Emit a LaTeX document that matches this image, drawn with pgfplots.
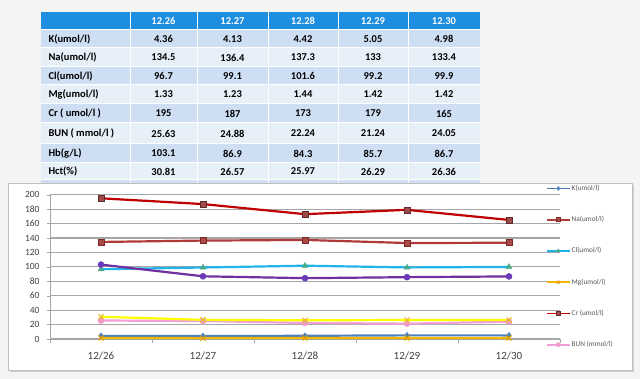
\documentclass[border=0pt]{standalone}
\usepackage{pgfplots}
\pgfplotsset{compat=1.18}
\usepackage{fontspec}
\setmainfont{Carlito}
\definecolor{bgc}{HTML}{F4F4F4}
\definecolor{hdr}{HTML}{1E8EE0}
\definecolor{rowdark}{HTML}{CEDFF4}
\definecolor{rowlight}{HTML}{E7EFF9}
\definecolor{boxgray}{HTML}{BFBFBF}
\definecolor{gridgray}{HTML}{A6A6A6}
\definecolor{axisgray}{HTML}{A6A6A6}
\definecolor{ticktext}{HTML}{404040}
\definecolor{legtext}{HTML}{595959}
\definecolor{cK}{HTML}{4F81BD}
\definecolor{cNa}{HTML}{B03A38}
\definecolor{cNam}{HTML}{A84B48}
\definecolor{cCl}{HTML}{1FB4EA}
\definecolor{cClm}{HTML}{4BAA88}
\definecolor{cMg}{HTML}{F2B600}
\definecolor{cMgm}{HTML}{E0A000}
\definecolor{cCr}{HTML}{C00000}
\definecolor{cCrm}{HTML}{9E4A4A}
\definecolor{cBUN}{HTML}{F3A0DA}
\definecolor{cBUNm}{HTML}{F29AC8}
\definecolor{cHb}{HTML}{7030A0}
\definecolor{cHbm}{HTML}{6A3AB8}
\definecolor{cHct}{HTML}{FFFF00}
\definecolor{cHctm}{HTML}{E8C030}
\newcommand\trow[7]{%
  \node[anchor=west,font=\bfseries\fontsize{10.5}{12}\selectfont] at (45,#1) {#2};
  \node[font=\bfseries\fontsize{10.5}{12}\selectfont] at (163.5,#1) {#3};
  \node[font=\bfseries\fontsize{10.5}{12}\selectfont] at (232.5,#1) {#4};
  \node[font=\bfseries\fontsize{10.5}{12}\selectfont] at (303,#1) {#5};
  \node[font=\bfseries\fontsize{10.5}{12}\selectfont] at (373,#1) {#6};
  \node[font=\bfseries\fontsize{10.5}{12}\selectfont] at (444,#1) {#7};}
\begin{document}
\begin{tikzpicture}[x=1pt,y=1pt]
\fill[bgc] (0,0) rectangle (640,379);
\useasboundingbox (0,0) rectangle (640,379);
% table
\fill[hdr] (41,367) rectangle (480,349);
\fill[rowdark] (41,349) rectangle (480,331);
\fill[rowlight] (41,331) rectangle (480,312);
\fill[rowdark] (41,312) rectangle (480,294);
\fill[rowlight] (41,294) rectangle (480,275);
\fill[rowdark] (41,275) rectangle (480,256);
\fill[rowlight] (41,256) rectangle (480,235);
\fill[rowdark] (41,235) rectangle (480,216);
\fill[rowlight] (41,216) rectangle (480,199);
\fill[rowdark] (41,199) rectangle (480,190);
\foreach \yy in {349,331,312,294,275,256,235,216,199}
  \draw[white,line width=1pt] (41,\yy) -- (480,\yy);
\foreach \xx in {130,197,268,338,408}
  \draw[white,line width=1pt] (\xx,367) -- (\xx,190);
\foreach \xx/\t in {163.5/12.26,232.5/12.27,303/12.28,373/12.29,444/12.30}
  \node[white,font=\bfseries\fontsize{10.5}{12}\selectfont] at (\xx,358) {\t};
\trow{340}{K(umol/l)}{4.36}{4.13}{4.42}{5.05}{4.98}
\trow{321.5}{Na(umol/l)}{134.5}{136.4}{137.3}{133}{133.4}
\trow{303}{Cl(umol/l)}{96.7}{99.1}{101.6}{99.2}{99.9}
\trow{284.5}{Mg(umol/l)}{1.33}{1.23}{1.44}{1.42}{1.42}
\trow{265.5}{Cr ( umol/l )}{195}{187}{173}{179}{165}
\trow{245.5}{BUN ( mmol/l )}{25.63}{24.88}{22.24}{21.24}{24.05}
\trow{225.5}{Hb(g/L)}{103.1}{86.9}{84.3}{85.7}{86.7}
\trow{207.5}{Hct(\%)}{30.81}{26.57}{25.97}{26.29}{26.36}
% chart box
\fill[black!18] (10,7) rectangle (634,194);
\fill[white,draw=boxgray] (8,9) rectangle (632,196);
\begin{axis}[
  at={(50pt,40pt)}, anchor=south west,
  width=510pt, height=144.3pt, scale only axis,
  xmin=-0.5, xmax=4.5, ymin=0, ymax=200,
  ytick={0,20,...,200},
  xtick={0,1,2,3,4},
  xticklabels={12/26,12/27,12/28,12/29,12/30},
  minor xtick={-0.5,0.5,1.5,2.5,3.5,4.5},
  major x tick style={draw=none},
  minor x tick style={axisgray},
  y tick style={axisgray},
  tick align=outside,
  major tick length=3pt, minor tick length=4pt,
  axis x line*=bottom, axis y line*=left,
  axis line style={axisgray, line width=0.8pt},
  ymajorgrids, grid style={gridgray, line width=1.2pt},
  /pgf/number format/assume math mode=true,
  yticklabel style={font=\fontsize{9.5}{10}\selectfont, text=ticktext, xshift=-4pt},
  xticklabel style={font=\fontsize{11}{12}\selectfont, text=ticktext, yshift=-6pt},
  every axis plot/.append style={line width=2.2pt},
  clip=false,
  legend style={at={(axis description cs:0.972,1.075)}, anchor=north west,
    draw=none, fill=none, inner sep=0pt, row sep=22.4pt,
    font=\fontsize{7.3}{8}\selectfont, text=legtext,
    nodes={inner sep=1pt}},
  legend cell align=left,
  legend image code/.code={\draw[mark repeat=2,mark phase=2,line width=1.8pt,#1,mark size=2pt] plot coordinates {(0pt,0pt)(11.5pt,0pt)(23pt,0pt)};},
]
\addplot[cK, mark=diamond*, mark size=3pt, mark options={fill=cK,draw=cK,line width=0.5pt}] coordinates {(0,4.36)(1,4.13)(2,4.42)(3,5.05)(4,4.98)};
\addlegendentry{K(umol/l)}
\addplot[cNa, mark=square*, mark size=3pt, mark options={fill=cNam,draw=cNa!70!black,line width=0.5pt}] coordinates {(0,134.5)(1,136.4)(2,137.3)(3,133)(4,133.4)};
\addlegendentry{Na(umol/l)}
\addplot[cCl, mark=triangle*, mark size=3.2pt, mark options={fill=cClm,draw=cClm,line width=0.5pt}] coordinates {(0,96.7)(1,99.1)(2,101.6)(3,99.2)(4,99.9)};
\addlegendentry{Cl(umol/l)}
\addplot[cMg, mark=x, mark size=3.5pt, mark options={draw=cMgm,line width=1.2pt}] coordinates {(0,1.33)(1,1.23)(2,1.44)(3,1.42)(4,1.42)};
\addlegendentry{Mg(umol/l)}
\addplot[cCr, mark=square*, mark size=3pt, mark options={fill=cCrm,draw=cCrm!60!black,line width=0.5pt}] coordinates {(0,195)(1,187)(2,173)(3,179)(4,165)};
\addlegendentry{Cr (umol/l)}
\addplot[cBUN, mark=*, mark size=3pt, mark options={fill=cBUNm,draw=cBUNm,line width=0.5pt}] coordinates {(0,25.63)(1,24.88)(2,22.24)(3,21.24)(4,24.05)};
\addlegendentry{BUN (mmol/l)}
\addplot[cHb, mark=*, mark size=3pt, mark options={fill=cHbm,draw=cHbm,line width=0.5pt}, forget plot] coordinates {(0,103.1)(1,86.9)(2,84.3)(3,85.7)(4,86.7)};
\addplot[cHct, mark=x, mark size=3.5pt, mark options={draw=cHctm,line width=1.2pt}, forget plot] coordinates {(0,30.81)(1,26.57)(2,25.97)(3,26.29)(4,26.36)};
\end{axis}
\end{tikzpicture}
\end{document}
